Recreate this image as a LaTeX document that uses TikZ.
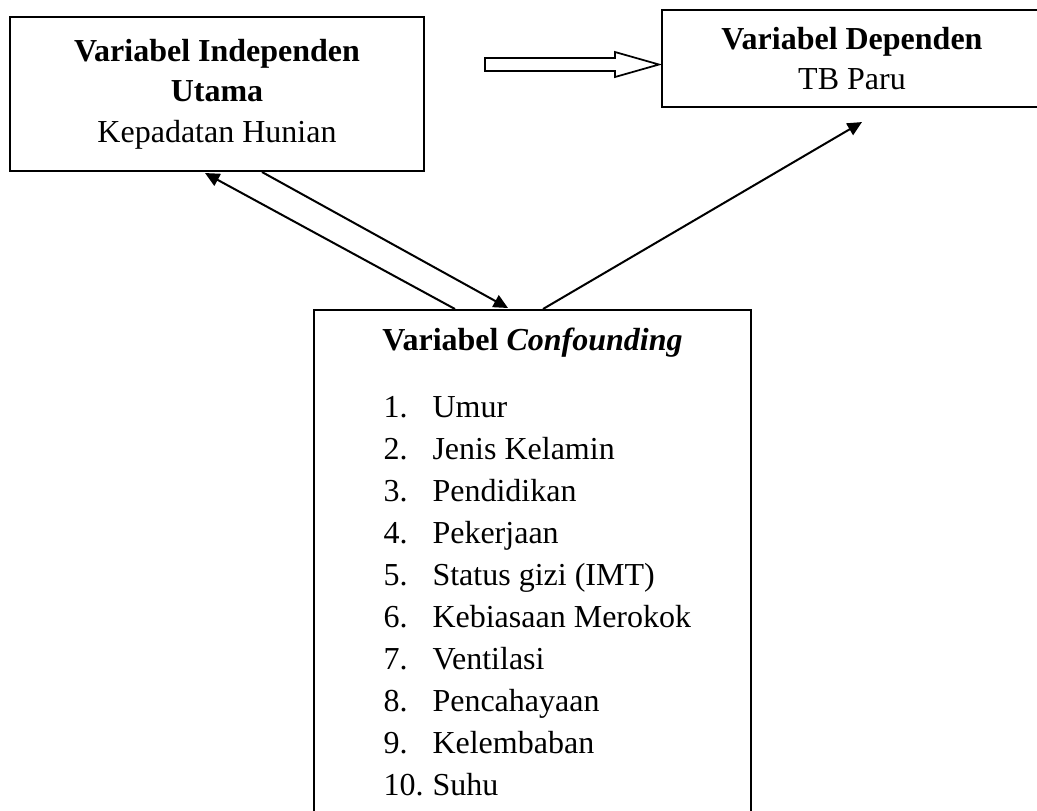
\documentclass[tikz,border=0pt]{standalone}
\usepackage{fontspec}
\setmainfont{Liberation Serif}
\usetikzlibrary{positioning, arrows.meta}

\begin{document}
\begin{tikzpicture}[x=0.375pt, y=-0.375pt,
  varbox/.style={draw, line width=0.75pt, align=center, inner sep=0pt,
                 font=\fontsize{12}{15.2}\selectfont},
  arr/.style={-{Triangle[length=5.4pt, width=5pt]}, line width=0.75pt},
  hollow/.style={draw, line width=0.65pt, fill=white},
  title/.style={font=\fontsize{12}{15}\selectfont\bfseries, anchor=base, inner sep=0pt},
  item/.style={font=\fontsize{12}{15}\selectfont, anchor=base west, inner sep=0pt},
]

% --- page frame ---
\useasboundingbox (0,0) rectangle (1037,810);
\clip (0,0) rectangle (1037,810);

% --- Main boxes ---
\node[varbox, minimum width=155.25pt, minimum height=57.75pt] (indep) at (217,94)
  {\textbf{Variabel Independen}\\\textbf{Utama}\\Kepadatan Hunian};

\node[varbox, minimum width=142.5pt, minimum height=36.4pt] (dep) at (852,58.5)
  {\textbf{Variabel Dependen}\\TB Paru};

\node[varbox, minimum width=163.9pt, minimum height=198.75pt] (conf) at (532.5,575) {};

% --- Confounding list ---
\node[title] (conftitle) at ([shift={(0,41)}]conf.north)
  {Variabel \textit{Confounding}};
\foreach \txt [count=\i] in {Umur, Jenis Kelamin, Pendidikan, Pekerjaan,
    Status gizi (IMT), Kebiasaan Merokok, Ventilasi, Pencahayaan, Kelembaban, Suhu} {
  \node[item] (num\i) at ([shift={(-149.5,{108+42.1*(\i-1)})}]conf.north) {\i.};
  \node[item] (txt\i) at ([shift={(-100.5,{108+42.1*(\i-1)})}]conf.north) {\txt};
}

% --- Hollow arrow: independen to dependen ---
\draw[hollow] (485,58) -- (615,58) -- (615,52) -- (659,64.5)
  -- (615,77) -- (615,71) -- (485,71) -- cycle;

% --- Arrows ---
\draw[arr] ([shift={(-77.5,0)}]conf.north) -- ([shift={(-12,1)}]indep.south);
\draw[arr] ([shift={(45,0)}]indep.south) -- ([shift={(-24.5,-1)}]conf.north);
\draw[arr] ([shift={(10.5,0)}]conf.north) -- ([shift={(10,14)}]dep.south);

\end{tikzpicture}
\end{document}
